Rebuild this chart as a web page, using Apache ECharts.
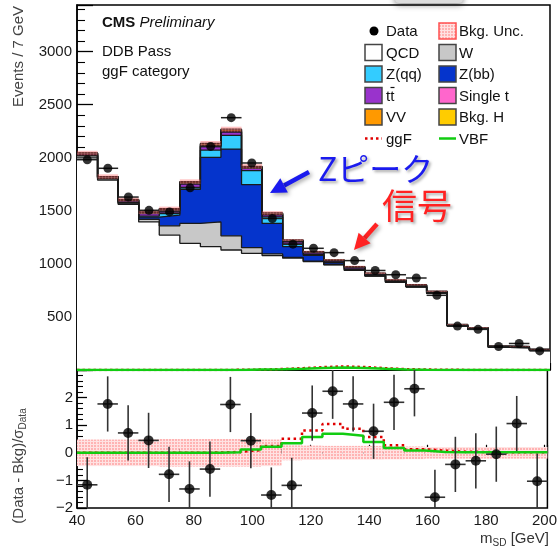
<!DOCTYPE html>
<html><head><meta charset="utf-8">
<script src="https://cdn.jsdelivr.net/npm/echarts@6/dist/echarts.min.js"></script>
<style>html,body{margin:0;padding:0;background:#fff}#c{width:560px;height:548px}</style>
</head><body><div id="c"></div>
<script>
// ---- data ----
const binEdges = [40,47,54,61,68,75,82,89,96,103,110,117,124,131,138,145,152,159,166,173,180,187,194,201];
const qcd   = [2000,1790,1562,1396,1272,1194,1162,1131,1100,1078,1054,1022,991,938,885,827,782,722,414,384,214,210,185];
const wjets = [18,12,10,25,87,187,234,134,53,16,8,5,3,2,1,1,1,0,1,0,0,0,0];
const zbb   = [5,5,8,20,100,321,608,817,595,287,100,53,15,8,5,3,2,2,0,0,0,0,0];
const zqq   = [2,2,3,10,15,20,69,130,131,62,25,10,5,3,2,1,1,1,0,1,0,0,0];
const ttbar = [12,8,14,22,26,30,33,30,22,20,21,14,13,13,11,10,9,8,7,7,5,5,5];
const singlet = [3,2,4,6,7,8,8,8,6,6,6,4,4,4,3,3,3,3,3,2,2,2,2];
const vv    = [3,2,4,6,8,10,14,15,8,6,5,4,3,3,3,3,3,3,2,2,2,2,1];
const bkgH  = [2,2,3,5,6,6,7,4,5,5,6,4,4,4,3,3,3,3,3,3,3,3,3];
const bkgUnc = [21,21,19,19,19,21,23,24,22,18,9,9,8,8,8,7,7,6,4,4,3,3,3];
const dataEvents = [1982,1901,1630,1505,1490,1717,2107,2378,1951,1428,1186,1147,1106,1031,938,898,867,704,414,383,222,250,180];
const ggfUpper = [0,0,0,0,0,0,0.5,1.5,4,9,17,27,34,28,17,8,4,2,1,1,0.5,0.5,0.5];
const vbfUpper = [0,0,0,0,0,0,0,1,5,8,12,19,23,20,12,5,2,1,0.5,0.5,0.5,0.5,0.5];
const pull = [-1.16,1.77,0.72,0.45,-0.78,-1.31,-0.59,1.75,0.44,-1.53,-1.18,1.44,2.23,1.77,0.78,1.83,2.32,-1.61,-0.42,-0.29,-0.05,1.06,-1.03];
const ratioUnc = [0.48,0.48,0.48,0.48,0.5,0.5,0.5,0.5,0.5,0.48,0.27,0.26,0.25,0.25,0.25,0.24,0.23,0.21,0.21,0.21,0.21,0.21,0.21];
const ggfRatio = [0,0,0,0,0,0,0.01,0.03,0.1,0.25,0.51,0.81,1.04,0.87,0.57,0.27,0.13,0.08,0.04,0.03,0.02,0.02,0.02];
const vbfRatio = [0,0,0,0,0,0,0,0.02,0.12,0.22,0.35,0.57,0.69,0.62,0.39,0.17,0.08,0.03,0.02,0.02,0.02,0.02,0.02];
const upperTicks = {min:0, max:3440, interval:500};
const ratioTicks = {min:-2, max:3, interval:1};

// ---- helpers ----
const FONT = '"Liberation Sans", Arial, sans-serif';
const nb = dataEvents.length;
const centers = binEdges.slice(0, nb).map((e,i)=> (e + binEdges[i+1]) / 2);
function stepPts(vals){ return binEdges.map((e,i)=>[e, vals[Math.min(i, vals.length-1)]]); }
function hatch(bg, line){
  const c=document.createElement('canvas'); c.width=3; c.height=3;
  const g=c.getContext('2d'); g.fillStyle=bg; g.fillRect(0,0,3,3);
  g.fillStyle=line; g.fillRect(0,0,1,3); g.fillRect(0,0,3,1); return c;
}
const ratioPattern = {image: hatch('#ffb3b3', '#ffe2e2'), repeat:'repeat'};
const upperPattern = {image: hatch('rgba(255,80,80,0.35)', 'rgba(255,190,190,0.2)'), repeat:'repeat'};

const layers = [
  {name:'QCD', vals:qcd, color:'#ffffff'},
  {name:'W', vals:wjets, color:'#c8c8c8'},
  {name:'Z(bb)', vals:zbb, color:'#0534cc'},
  {name:'Z(qq)', vals:zqq, color:'#33ccff'},
  {name:'tt', vals:ttbar, color:'#9933cc'},
  {name:'Single t', vals:singlet, color:'#ff66cc'},
  {name:'VV', vals:vv, color:'#ff9900'},
  {name:'Bkg. H', vals:bkgH, color:'#ffcc00'}
];
let cum = new Array(nb).fill(0);
const cumLayers = layers.map(l => { cum = cum.map((c,i)=>c + l.vals[i]); return {name:l.name, color:l.color, top:cum.slice()}; });
const totals = cum.slice();

const series = [];
cumLayers.slice().reverse().forEach(l => {
  series.push({type:'line', name:l.name, xAxisIndex:0, yAxisIndex:0, step:'end', symbol:'none', silent:true,
    data: stepPts(l.top), lineStyle:{color:'#1a1a1a', width:1.3}, areaStyle:{color:l.color, opacity:1}, z:2});
});
// bkg uncertainty band (upper)
series.push({type:'custom', xAxisIndex:0, yAxisIndex:0, silent:true, z:3,
  data: totals.map((t,i)=>[binEdges[i], binEdges[i+1], t - bkgUnc[i], t + bkgUnc[i]]),
  encode:{x:[0,1], y:[2,3]},
  renderItem:(p, api)=>{
    const a = api.coord([api.value(0), api.value(3)]);
    const b = api.coord([api.value(1), api.value(2)]);
    return {type:'rect', shape:{x:a[0], y:a[1], width:b[0]-a[0], height:b[1]-a[1]}, style:{fill:upperPattern}};
  }});
// signals upper
series.push({type:'line', xAxisIndex:0, yAxisIndex:0, step:'end', symbol:'none', silent:true, z:4,
  data: stepPts(ggfUpper), lineStyle:{color:'#e00000', width:2.5, type:[2.5,3]}});
series.push({type:'line', xAxisIndex:0, yAxisIndex:0, step:'end', symbol:'none', silent:true, z:4,
  data: stepPts(vbfUpper), lineStyle:{color:'#11cc11', width:2.5}});
// data (upper) x-errors
series.push({type:'custom', xAxisIndex:0, yAxisIndex:0, silent:true, z:5,
  data: dataEvents.map((v,i)=>[binEdges[i], binEdges[i+1], v]),
  encode:{x:[0,1], y:2},
  renderItem:(p, api)=>{
    const a = api.coord([api.value(0), api.value(2)]);
    const b = api.coord([api.value(1), api.value(2)]);
    return {type:'line', shape:{x1:a[0], y1:a[1], x2:b[0], y2:b[1]}, style:{stroke:'#222', lineWidth:1.5}};
  }});
series.push({type:'scatter', xAxisIndex:0, yAxisIndex:0, silent:true, z:6, symbol:'circle', symbolSize:9,
  data: dataEvents.map((v,i)=>[centers[i], v]), itemStyle:{color:'#000'}});

// ratio band
series.push({type:'custom', xAxisIndex:1, yAxisIndex:1, silent:true, z:2, clip:true,
  data: ratioUnc.map((u,i)=>[binEdges[i], binEdges[i+1], -u, u]),
  encode:{x:[0,1], y:[2,3]},
  renderItem:(p, api)=>{
    const a = api.coord([api.value(0), api.value(3)]);
    const b = api.coord([api.value(1), api.value(2)]);
    return {type:'rect', shape:{x:a[0], y:a[1], width:b[0]-a[0], height:b[1]-a[1]}, style:{fill:ratioPattern}};
  }});
series.push({type:'line', xAxisIndex:1, yAxisIndex:1, step:'end', symbol:'none', silent:true, z:3,
  data: stepPts(ggfRatio), lineStyle:{color:'#e00000', width:2.5, type:[2.5,3.5]}});
series.push({type:'line', xAxisIndex:1, yAxisIndex:1, step:'end', symbol:'none', silent:true, z:3,
  data: stepPts(vbfRatio), lineStyle:{color:'#11cc11', width:2.5}});
// ratio error bars (pull uncertainty is 1 by definition)
series.push({type:'custom', xAxisIndex:1, yAxisIndex:1, silent:true, z:5, clip:true,
  data: pull.map((v,i)=>[binEdges[i], binEdges[i+1], centers[i], v]),
  encode:{x:[0,1], y:3},
  renderItem:(p, api)=>{
    const l = api.coord([api.value(0), api.value(3)]);
    const r = api.coord([api.value(1), api.value(3)]);
    const t = api.coord([api.value(2), api.value(3) + 1]);
    const b = api.coord([api.value(2), api.value(3) - 1]);
    return {type:'group', children:[
      {type:'line', shape:{x1:l[0], y1:l[1], x2:r[0], y2:r[1]}, style:{stroke:'#333', lineWidth:1.6}},
      {type:'line', shape:{x1:t[0], y1:t[1], x2:b[0], y2:b[1]}, style:{stroke:'#333', lineWidth:1.6}}
    ]};
  }});
series.push({type:'scatter', xAxisIndex:1, yAxisIndex:1, silent:true, z:6, symbol:'circle', symbolSize:10,
  data: pull.map((v,i)=>[centers[i], v]), itemStyle:{color:'#000'}});

// ---- graphics (texts, legend, annotations) ----
const g = [];
function txt(x, y, text, opt){ g.push(Object.assign({type:'text', x, y, z:100, style:Object.assign({text, font:'15px '+FONT, fill:'#111', align:'left', verticalAlign:'middle', textAlign:'left', textVerticalAlign:'middle'}, opt||{})})); }
txt(102, 23, '{b|CMS} {i|Preliminary}', {rich:{b:{fontWeight:'bold', fontSize:15, fontFamily:FONT, fill:'#111'}, i:{fontStyle:'italic', fontSize:15, fontFamily:FONT, fill:'#111'}}});
txt(102, 52, 'DDB Pass');
txt(102, 72, 'ggF category');

const rowsY = [31, 52.5, 74, 95.5, 117, 138.5];
const legendCols = [
  {box:365, text:386, items:[{n:'Data', k:'dot'}, {n:'QCD', k:'box', c:'#ffffff'}, {n:'Z(qq)', k:'box', c:'#33ccff'}, {n:'tt', k:'box', c:'#9933cc', bar:true}, {n:'VV', k:'box', c:'#ff9900'}, {n:'ggF', k:'dash', c:'#e00000'}]},
  {box:439, text:459, items:[{n:'Bkg. Unc.', k:'unc'}, {n:'W', k:'box', c:'#c8c8c8'}, {n:'Z(bb)', k:'box', c:'#0534cc'}, {n:'Single t', k:'box', c:'#ff66cc'}, {n:'Bkg. H', k:'box', c:'#ffcc00'}, {n:'VBF', k:'line', c:'#11cc11'}]}
];
legendCols.forEach(col => col.items.forEach((it, r) => {
  const y = rowsY[r];
  if (it.k === 'dot') g.push({type:'circle', z:100, shape:{cx:col.box+9, cy:y, r:4.5}, style:{fill:'#000'}});
  else if (it.k === 'box') g.push({type:'rect', z:100, shape:{x:col.box, y:y-8, width:17, height:16}, style:{fill:it.c, stroke:'#444', lineWidth:1.5}});
  else if (it.k === 'unc') g.push({type:'rect', z:100, shape:{x:col.box, y:y-8, width:17, height:16}, style:{fill:ratioPattern, stroke:'#ff5050', lineWidth:1.5}});
  else if (it.k === 'dash') g.push({type:'line', z:100, shape:{x1:col.box, y1:y, x2:col.box+17, y2:y}, style:{stroke:it.c, lineWidth:2.5, lineDash:[2.5,3]}});
  else if (it.k === 'line') g.push({type:'line', z:100, shape:{x1:col.box, y1:y, x2:col.box+17, y2:y}, style:{stroke:it.c, lineWidth:2.5}});
  txt(col.text, y+1, it.n, {font:'15px '+FONT});
  if (it.bar) g.push({type:'line', z:100, shape:{x1:col.text+4.5, y1:y-8, x2:col.text+8.5, y2:y-8}, style:{stroke:'#111', lineWidth:1.2}});
}));

// axis titles
g.push({type:'text', x:19, y:6, rotation:Math.PI/2, z:100, style:{text:'Events / 7 GeV', font:'15px '+FONT, fill:'#444', align:'right', verticalAlign:'middle', textAlign:'right', textVerticalAlign:'middle'}});
g.push({type:'text', x:19, y:466, rotation:Math.PI/2, z:100, style:{text:'{m|(Data - Bkg)/σ}{s|Data}', align:'center', verticalAlign:'middle', textAlign:'center', textVerticalAlign:'middle',
  rich:{m:{fontSize:15, fontFamily:FONT, fill:'#444', lineHeight:18}, s:{fontSize:10, fontFamily:FONT, fill:'#444', padding:[9,0,0,0], lineHeight:18}}}});
g.push({type:'text', x:549, y:539, z:100, style:{text:'{m|m}{s|SD}{m| [GeV]}', align:'right', verticalAlign:'middle', textAlign:'right', textVerticalAlign:'middle',
  rich:{m:{fontSize:15, fontFamily:FONT, fill:'#333', lineHeight:18}, s:{fontSize:10, fontFamily:FONT, fill:'#333', padding:[9,0,0,0], lineHeight:18}}}});

// annotations
function arrow(tail, tip, color){
  const dx = tip[0]-tail[0], dy = tip[1]-tail[1], L = Math.hypot(dx, dy);
  const ux = dx/L, uy = dy/L, nx = -uy, ny = ux, h = 16, w = 8;
  const bx = tip[0]-h*ux, by = tip[1]-h*uy;
  const sh = {shadowBlur:4, shadowColor:'rgba(0,0,0,0.35)', shadowOffsetX:2, shadowOffsetY:2};
  g.push({type:'line', z:90, shape:{x1:tail[0], y1:tail[1], x2:bx, y2:by}, style:Object.assign({stroke:color, lineWidth:4.5}, sh)});
  g.push({type:'polygon', z:90, shape:{points:[[tip[0],tip[1]],[bx+w*nx, by+w*ny],[bx-w*nx, by-w*ny]]}, style:Object.assign({fill:color}, sh)});
}
arrow([309,172], [270,193], '#1a1aee');
arrow([377,224], [354,250], '#ff2222');
const tsh = {textShadowColor:'rgba(0,0,0,0.35)', textShadowBlur:3, textShadowOffsetX:2, textShadowOffsetY:2};
txt(318, 169, 'Zピーク', Object.assign({font:'32px "Noto Sans CJK JP", sans-serif', fill:'#1a1aee'}, tsh));
txt(382, 206, '信号', Object.assign({font:'35px "Noto Sans CJK JP", sans-serif', fill:'#ff2222'}, tsh));
g.push({type:'rect', z:80, shape:{x:395, y:-12, width:68, height:15, r:4}, style:{fill:'#dcdcdc', shadowBlur:6, shadowColor:'rgba(0,0,0,0.45)', shadowOffsetY:2}});

const axisCommon = {axisLine:{show:true, lineStyle:{color:'#000', width:1.5}}, splitLine:{show:false}};
const option = {
  animation:false,
  backgroundColor:'#fff',
  grid:[
    {left:77, right:10, top:5, height:365, show:true, borderColor:'#000', borderWidth:1.5, backgroundColor:'transparent'},
    {left:77, right:10, top:370, height:138, show:true, borderColor:'#000', borderWidth:1.5, backgroundColor:'transparent'}
  ],
  xAxis:[
    Object.assign({type:'value', gridIndex:0, min:binEdges[0], max:binEdges[nb], interval:20,
      axisLabel:{show:false}, axisTick:{inside:true, length:7, lineStyle:{color:'#000', width:1.2}},
      minorTick:{show:true, splitNumber:4, length:4, lineStyle:{color:'#000', width:1}}}, axisCommon),
    Object.assign({type:'value', gridIndex:1, min:binEdges[0], max:binEdges[nb], interval:20,
      axisLabel:{fontSize:15, fontFamily:FONT, color:'#1a1a1a', margin:5, formatter:v=> v%20===0 ? String(v) : ''},
      axisTick:{inside:true, length:8, lineStyle:{color:'#000', width:1.2}},
      minorTick:{show:true, splitNumber:4, length:4, lineStyle:{color:'#000', width:1}}}, axisCommon)
  ],
  yAxis:[
    Object.assign({type:'value', gridIndex:0, min:upperTicks.min, max:upperTicks.max, interval:upperTicks.interval,
      axisLabel:{fontSize:15, fontFamily:FONT, color:'#1a1a1a', margin:5, formatter:v=> (v>0 && v%500===0) ? String(v) : ''},
      axisTick:{inside:true, length:16, lineStyle:{color:'#000', width:1.3}},
      minorTick:{show:true, splitNumber:5, length:8, lineStyle:{color:'#000', width:1.1}}}, axisCommon),
    Object.assign({type:'value', gridIndex:1, min:ratioTicks.min, max:ratioTicks.max, interval:ratioTicks.interval,
      axisLabel:{fontSize:15, fontFamily:FONT, color:'#1a1a1a', margin:4, formatter:v=> v>=3 ? '' : (v<0 ? '\u2212'+Math.abs(v) : String(v))},
      axisTick:{inside:true, length:10, lineStyle:{color:'#000', width:1.3}},
      minorTick:{show:true, splitNumber:5, length:6, lineStyle:{color:'#000', width:1.1}}}, axisCommon)
  ],
  series,
  graphic: g
};
const chart = echarts.init(document.getElementById('c'), null, {renderer:'canvas'});
chart.setOption(option);
</script></body></html>
